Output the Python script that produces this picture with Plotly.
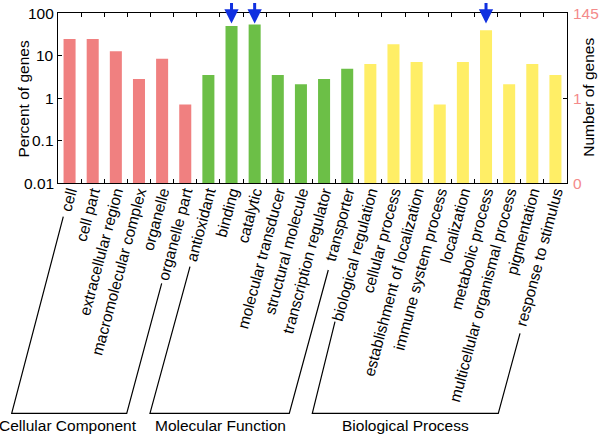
import math
import plotly.graph_objects as go

# ---------------- data ----------------
categories = [
    "cell", "cell part", "extracellular region", "macromolecular complex",
    "organelle", "organelle part",
    "antioxidant", "binding", "catalytic", "molecular transducer",
    "structural molecule", "transcription regulator", "transporter",
    "biological regulation", "cellular process", "establishment of localization",
    "immune system process", "localization", "metabolic process",
    "multicellular organismal process", "pigmentation", "response to stimulus",
]
groups = ["CC"] * 6 + ["MF"] * 7 + ["BP"] * 9
percent = [24.4, 24.4, 12.6, 2.8, 8.4, 0.70,
           3.5, 49.5, 53.3, 3.5, 2.1, 2.8, 4.9,
           6.3, 18.4, 7.0, 0.70, 7.0, 39.2, 2.1, 6.3, 3.5]
highlighted = ["binding", "catalytic", "metabolic process"]
group_names = {"CC": "Cellular Component", "MF": "Molecular Function", "BP": "Biological Process"}
left_ticks = [0.01, 0.1, 1, 10, 100]
left_ticktext = ["0.01", "0.1", "1", "10", "100"]
right_tickvals = [0.01, 1, 100]
right_ticktext = ["0", "1", "145"]

# ---------------- styles ----------------
colors = {"CC": "#F08080", "MF": "#6CBF47", "BP": "#FFEE66"}
FONT = "Arial, Liberation Sans, sans-serif"
W, H = 600, 436
L, R, T, B = 58, 33, 13, 253
PW, PH = W - L - R, H - T - B


def px(x, y):
    """pixel -> paper coordinates"""
    return (x - L) / PW, (H - B - y) / PH


fig = go.Figure()
fig.add_trace(go.Bar(
    x=categories, y=percent,
    marker=dict(color=[colors[g] for g in groups], line=dict(width=0)),
    width=0.52, showlegend=False,
))
# invisible trace for the right axis
fig.add_trace(go.Scatter(x=[categories[0]], y=[1], yaxis="y2", mode="markers",
                         marker=dict(opacity=0), showlegend=False, hoverinfo="skip"))

# brackets (pixel geometry of decoration)
brackets = [
    [(63.3, 216.7), (11.7, 413.3), (126.7, 413.3), (161.7, 283.3)],
    [(190.0, 266.7), (150.0, 413.3), (289.3, 413.3), (328.3, 270.0)],
    [(335.0, 321.7), (312.3, 413.3), (498.3, 413.3), (520.0, 333.3)],
]
for pts in brackets:
    pp = [px(*p) for p in pts]
    path = "M " + " L ".join(f"{a:.4f},{b:.4f}" for a, b in pp)
    fig.add_shape(type="path", path=path, xref="paper", yref="paper",
                  line=dict(color="black", width=1.2))

group_label_x = {"CC": 68, "MF": 220, "BP": 405}
annotations = []
for g, xc in group_label_x.items():
    xp, yp = px(xc, 425.5)
    annotations.append(dict(text=group_names[g], x=xp, y=yp, xref="paper", yref="paper",
                            showarrow=False, xanchor="center", yanchor="middle",
                            font=dict(size=15.5, color="black", family=FONT)))

# axis titles
xp, yp = px(22.5, 99)
annotations.append(dict(text="Percent of genes", x=xp, y=yp, xref="paper", yref="paper",
                        textangle=-90, showarrow=False, xanchor="center", yanchor="middle",
                        font=dict(size=15.5, color="black", family=FONT)))
xp, yp = px(589, 97.7)
annotations.append(dict(text="Number of genes", x=xp, y=yp, xref="paper", yref="paper",
                        textangle=-90, showarrow=False, xanchor="center", yanchor="middle",
                        font=dict(size=15.5, color="black", family=FONT)))

# y tick labels placed as text next to the axes
xl, _ = px(55.5, 0)
for v, t in zip(left_ticks, left_ticktext):
    annotations.append(dict(text=t, x=xl, y=math.log10(v), xref="paper", yref="y",
                            showarrow=False, xanchor="right", yanchor="middle",
                            xshift=0, font=dict(size=15.5, color="black", family=FONT)))
xr, _ = px(570.5, 0)
for v, t in zip(right_tickvals, right_ticktext):
    annotations.append(dict(text=t, x=xr, y=math.log10(v), xref="paper", yref="y",
                            showarrow=False, xanchor="left", yanchor="middle",
                            font=dict(size=15.5, color="#F48A8A", family=FONT)))

# blue arrows
_, tip_y = px(0, 23.5)
for c in highlighted:
    annotations.append(dict(x=c, y=tip_y, xref="x", yref="paper", text="",
                            showarrow=True, ax=0, ay=-22, arrowhead=2, arrowsize=0.95,
                            arrowwidth=3, arrowcolor="#1030E0"))

fig.update_layout(
    width=W, height=H, template="none",
    margin=dict(l=L, r=R, t=T, b=B, autoexpand=False),
    paper_bgcolor="white", plot_bgcolor="white",
    font=dict(family=FONT, size=15, color="black"),
    bargap=0.48,
    annotations=annotations,
    xaxis=dict(
        type="category", tickangle=-75, tickson="boundaries", ticks="inside",
        ticklen=4, tickcolor="black", showline=True, linecolor="black", linewidth=1.2,
        mirror="ticks", showgrid=False, zeroline=False, automargin=False,
        tickfont=dict(size=15.5, family=FONT, color="black"),
        ticklabelstandoff=-7,
        range=[-0.5, len(categories) - 0.5],
    ),
    yaxis=dict(
        type="log", range=[-2, 2], tickvals=left_ticks, showticklabels=False,
        ticks="inside", ticklen=4, tickcolor="black", showline=True, linecolor="black",
        linewidth=1.2, mirror=True, showgrid=False, zeroline=False, automargin=False,
    ),
    yaxis2=dict(
        type="log", range=[-2, 2], overlaying="y", side="right",
        tickvals=right_tickvals, showticklabels=False,
        ticks="inside", ticklen=4, tickcolor="black", showline=True, linecolor="black",
        linewidth=1.2, showgrid=False, zeroline=False, automargin=False,
    ),
)

fig.write_html(
    "out.html",
    config={"displayModeBar": False},
    post_script="document.body.style.margin='0';document.body.style.padding='0';",
)
